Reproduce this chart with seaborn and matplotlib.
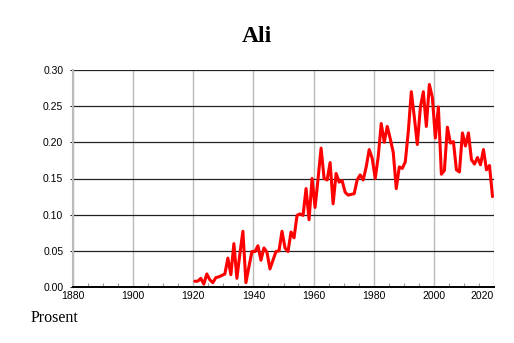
import numpy as np
import pandas as pd
import seaborn as sns
import matplotlib
matplotlib.use("Agg")
import matplotlib.pyplot as plt

years = list(range(1920, 2020))
share = [
    0.008, 0.008, 0.012, 0.004, 0.018, 0.010, 0.006, 0.013, 0.014, 0.016,
    0.018, 0.040, 0.017, 0.060, 0.012, 0.046, 0.077, 0.006, 0.028, 0.049,
    0.049, 0.057, 0.037, 0.054, 0.048, 0.025, 0.037, 0.049, 0.050, 0.077,
    0.054, 0.049, 0.076, 0.068, 0.099, 0.101, 0.099, 0.136, 0.093, 0.150,
    0.110, 0.150, 0.192, 0.150, 0.148, 0.172, 0.115, 0.157, 0.145, 0.147,
    0.131, 0.127, 0.128, 0.129, 0.148, 0.155, 0.148, 0.166, 0.190, 0.178,
    0.150, 0.180, 0.226, 0.200, 0.222, 0.205, 0.186, 0.136, 0.166, 0.164,
    0.173, 0.215, 0.270, 0.235, 0.197, 0.248, 0.270, 0.222, 0.280, 0.262,
    0.206, 0.249, 0.156, 0.161, 0.221, 0.199, 0.201, 0.162, 0.159, 0.213,
    0.195, 0.213, 0.176, 0.170, 0.179, 0.169, 0.190, 0.162, 0.168, 0.125,
]
x_ticks = list(range(1880, 2021, 20))
y_ticks = [0.00, 0.05, 0.10, 0.15, 0.20, 0.25, 0.30]

df = pd.DataFrame({"year": np.array(years) + 0.5, "share": share})

sns.set_style("white")
plt.rcParams["font.family"] = ["Liberation Sans", "DejaVu Sans"]
plt.rcParams["text.color"] = "black"
plt.rcParams["xtick.color"] = "black"
plt.rcParams["ytick.color"] = "black"
plt.rcParams["axes.labelcolor"] = "black"

fig = plt.figure(figsize=(5.14, 3.43), dpi=100)
ax = fig.add_axes([73 / 514, 1 - 287 / 343, 421 / 514, 217 / 343])

sns.lineplot(data=df, x="year", y="share", color="#ff0000", linewidth=2.2, ax=ax, zorder=5)

ax.set_xlim(1880, 2020)
ax.set_ylim(0, 0.30)
ax.set_xticks(x_ticks)
ax.set_xticks(range(1885, 2020, 5), minor=True)
ax.set_yticks(y_ticks)
ax.set_yticklabels([f"{v:.2f}" for v in y_ticks])
ax.set_xlabel("")
ax.set_ylabel("")

ax.grid(axis="x", color="#bbbbbb", linewidth=1.0)
ax.grid(axis="y", color="#222222", linewidth=0.9)
ax.set_axisbelow(True)

for s in ["top", "right"]:
    ax.spines[s].set_visible(False)
ax.spines["left"].set_color("#bbbbbb")
ax.spines["left"].set_linewidth(1.5)
ax.spines["bottom"].set_color("black")
ax.spines["bottom"].set_linewidth(1.4)

ax.tick_params(axis="y", length=2, width=0.8, color="#222222", labelcolor="black",
               pad=5, labelsize=7.5, left=True)
ax.tick_params(axis="x", which="major", length=0, pad=3, labelsize=7.5, labelcolor="black")
ax.tick_params(axis="x", which="minor", length=3, width=0.8, color="#999999",
               direction="in", bottom=True)
labels = ax.get_xticklabels()
labels[-1].set_ha("right")

fig.text(256.7 / 514, 1 - 41.7 / 343, "Ali", ha="center", va="baseline", color="black",
         fontsize=17, fontweight="bold", family="Liberation Serif")
fig.text(31 / 514, 1 - 322 / 343, "Prosent", ha="left", va="baseline", color="black",
         fontsize=11.5, family="Liberation Serif")

fig.savefig("out.png", dpi=100)
